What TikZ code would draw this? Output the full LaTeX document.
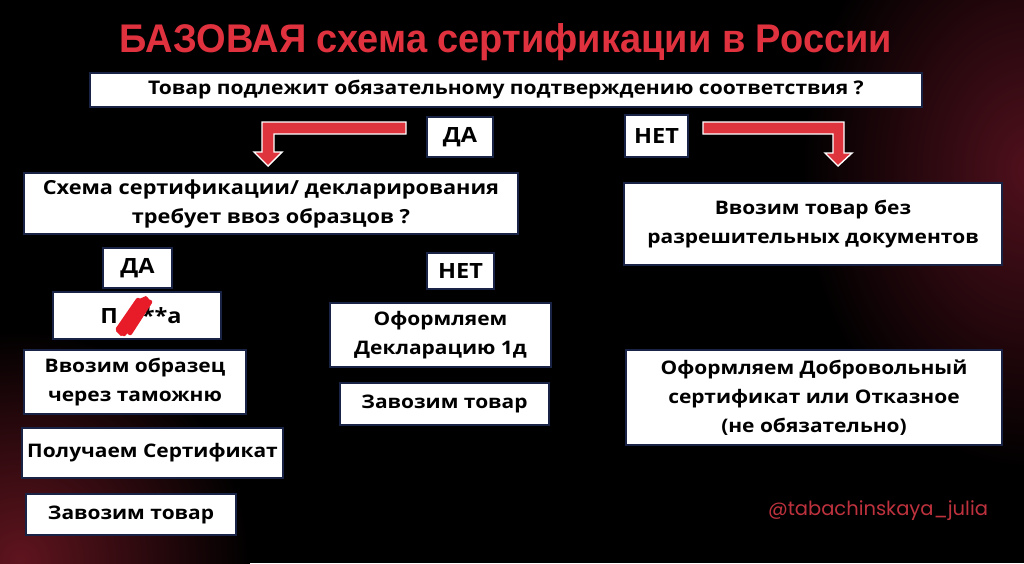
\documentclass[tikz,border=0pt]{standalone}
\usepackage{fontspec}
\newfontfamily\mfont{Open Sans}[FakeStretch=1.12]
\newfontfamily\tfont{Liberation Sans}[FakeStretch=0.95]
\newfontfamily\wfont{Poppins}
\definecolor{titlered}{RGB}{224,50,62}
\definecolor{arrred}{RGB}{222,52,62}
\definecolor{scribred}{RGB}{232,28,40}
\definecolor{boxedge}{RGB}{25,35,70}
\definecolor{glow}{RGB}{80,16,28}
\definecolor{glowbl}{RGB}{95,20,30}
\definecolor{wmred}{RGB}{190,50,62}
\tikzset{
  box/.style={fill=white, draw=boxedge, line width=1.6pt, inner sep=0pt, align=center, text=black},
  mtext/.style={font=\mfont\bfseries\fontsize{18.7}{29}\selectfont},
  q2text/.style={font=\mfont\bfseries\fontsize{19.4}{29}\selectfont},
  qtext/.style={font=\mfont\bfseries\fontsize{18.8}{22}\selectfont},
  ytext/.style={font=\mfont\bfseries\fontsize{21}{24}\selectfont},
  bigarrow/.style={fill=arrred, draw=white, line width=1.4pt, line join=miter},
  scrib/.style={draw=scribred, line width=4.5pt, line cap=round},
}
\begin{document}
\begin{tikzpicture}[x=1pt,y=-1pt]
\useasboundingbox (0,0) rectangle (1024,563);
\fill[black] (0,0) rectangle (1024,563);
\begin{scope}
\clip (0,0) rectangle (1024,563);
\shade[inner color=glow, outer color=black] (1030,170) ellipse (230 and 300);
\shade[inner color=glowbl, outer color=black] (20,560) circle (230);
\end{scope}
% title
\node[font=\tfont\bfseries\fontsize{40}{44}\selectfont, text=titlered, inner sep=0pt] (title) at (506,42) {БАЗОВАЯ схема сертификации в России};
% main question
\node[box, qtext, minimum width=832, minimum height=34] (q1) at (506,90) {Товар подлежит обязательному подтверждению соответствия ?};
\node[box, ytext, minimum width=66, minimum height=40] (da1) at (460,137) {ДА};
\node[box, ytext, minimum width=63, minimum height=42] (net1) at (656.5,136) {НЕТ};
% big arrows
\draw[bigarrow] (406,122) -- (262,122) -- (262,152) -- (254,152) -- (268,166) -- (282,152) -- (274,152) -- (274,134) -- (406,134) -- cycle;
\draw[bigarrow] (703,122) -- (844,122) -- (844,153) -- (852,153) -- (838,166) -- (825,153) -- (833,153) -- (833,134) -- (703,134) -- cycle;
% second level
\node[box, q2text, minimum width=494, minimum height=61] (q2) at (271,203.5) {Схема сертификации/ декларирования\\требует ввоз образцов ?};
\node[box, mtext, minimum width=378, minimum height=82] (nodocs) at (813,224) {Ввозим товар без\\разрешительных документов};
% left branch
\node[box, ytext, minimum width=69, minimum height=40] (da2) at (137.5,268) {ДА};
\node[box, ytext, minimum width=67, minimum height=36] (net2) at (460.5,271) {НЕТ};
\node[box, ytext, minimum width=168, minimum height=47] (prb) at (137,315.5) {\hspace*{8pt}П\hspace{24pt}**а};
\fill[scribred] (116,331) -- (121,336) -- (129,333) -- (151,301) -- (146,296) -- (139,299) -- cycle;
\draw[scrib] (118,329) -- (138,300);
\draw[scrib] (124,334) -- (146,299);
\draw[scrib] (130,333) -- (150,302);
\node[box, mtext, minimum width=222, minimum height=64] (sample) at (135,382) {Ввозим образец\\через таможню};
\node[box, mtext, minimum width=261, minimum height=50] (cert) at (152.5,453) {Получаем Сертификат};
\node[box, mtext, minimum width=210, minimum height=41] (imp1) at (131,514.5) {Завозим товар};
% middle branch
\node[box, mtext, minimum width=221, minimum height=64] (decl) at (440.5,335) {Оформляем\\Декларацию 1д};
\node[box, mtext, minimum width=209, minimum height=42] (imp2) at (444.5,404) {Завозим товар};
% right branch
\node[box, mtext, minimum width=376, minimum height=95] (vol) at (814,397.5) {Оформляем Добровольный\\сертификат или Отказное\\(не обязательно)};
% watermark
\node[font=\wfont\fontsize{19.5}{22}\selectfont, text=wmred, inner sep=0pt] (wm) at (878,511) {@tabachinskaya\_julia};
\end{tikzpicture}
\end{document}
